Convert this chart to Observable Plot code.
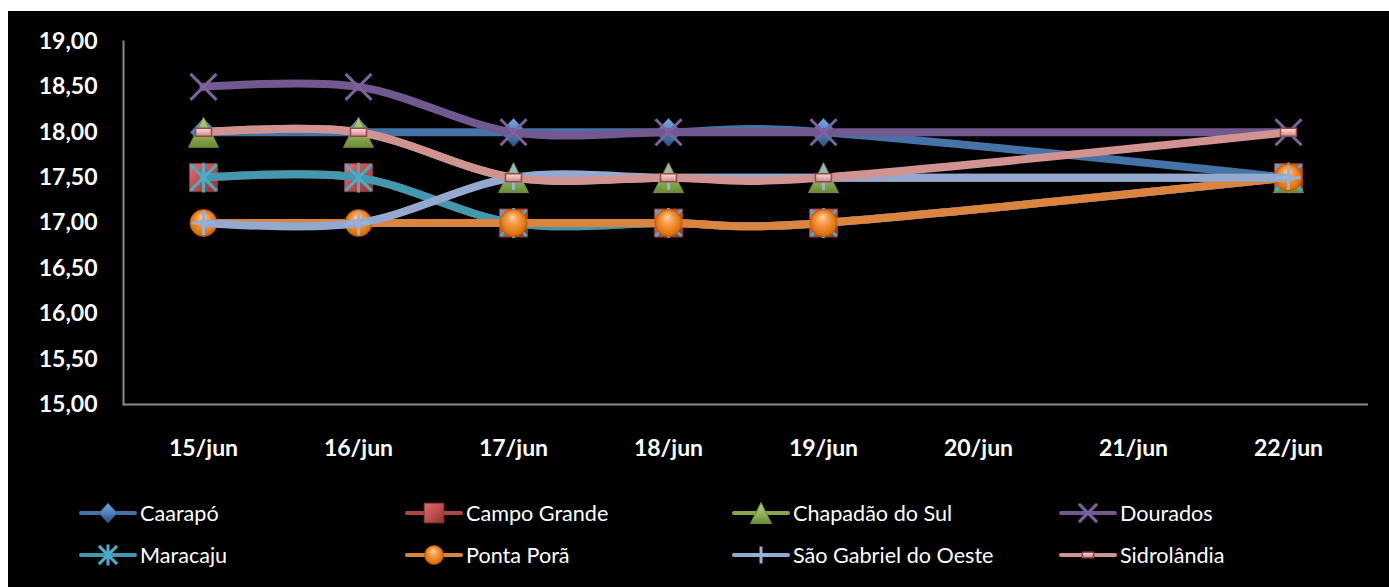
<!DOCTYPE html>
<html>
<head>
<meta charset="utf-8">
<script src="https://cdn.jsdelivr.net/npm/d3@7"></script>
<script src="https://cdn.jsdelivr.net/npm/@observablehq/plot@0.6"></script>
<style>
  html, body { margin: 0; padding: 0; background: #fff; }
  #chart { position: absolute; left: 8px; top: 11px; width: 1381px; height: 576px; background: #000; overflow: hidden; }
  #legend .item { position: absolute; display: flex; align-items: center; height: 32px; color: #fff;
    font-family: Lato, "Open Sans", sans-serif; font-size: 21.6px; white-space: nowrap; }
  #legend .item svg { display: block; margin-right: 5px; overflow: visible; }
</style>
</head>
<body>
<div id="chart"><div id="plot"></div><div id="legend"></div></div>
<script>
// Price quotes per city, one value per day that was quoted
const days = ["15/jun", "16/jun", "17/jun", "18/jun", "19/jun", "20/jun", "21/jun", "22/jun"];
const quotedDays = ["15/jun", "16/jun", "17/jun", "18/jun", "19/jun", "22/jun"];
const cities = ["Caarapó", "Campo Grande", "Chapadão do Sul", "Dourados", "Maracaju", "Ponta Porã", "São Gabriel do Oeste", "Sidrolândia"];

const caarapo     = [18.0, 18.0, 18.0, 18.0, 18.0, 17.5];
const campoGrande = [17.5, 17.5, 17.0, 17.0, 17.0, 17.5];
const chapadao    = [18.0, 18.0, 17.5, 17.5, 17.5, 17.5];
const dourados    = [18.5, 18.5, 18.0, 18.0, 18.0, 18.0];
const maracaju    = [17.5, 17.5, 17.0, 17.0, 17.0, 17.5];
const pontaPora   = [17.0, 17.0, 17.0, 17.0, 17.0, 17.5];
const saoGabriel  = [17.0, 17.0, 17.5, 17.5, 17.5, 17.5];
const sidrolandia = [18.0, 18.0, 17.5, 17.5, 17.5, 18.0];
const seriesValues = [caarapo, campoGrande, chapadao, dourados, maracaju, pontaPora, saoGabriel, sidrolandia];

const yTicks = [15, 15.5, 16, 16.5, 17, 17.5, 18, 18.5, 19];

// Styling
const lineColors = ["#4572A7", "#AA4643", "#89A54E", "#71588F", "#4198AF", "#DB843D", "#93A9CF", "#D19392"];

// Marker shapes; r = 10 gives the full-size marker
const unit = size => Math.sqrt(size / Math.PI) / 10;
const shapes = {
  diamond: { draw(c, s) { const k = unit(s); c.moveTo(0, -14 * k); c.lineTo(13 * k, 0); c.lineTo(0, 14 * k); c.lineTo(-13 * k, 0); c.closePath(); } },
  square: { draw(c, s) { const k = unit(s) * 14; c.rect(-k, -k, 2 * k, 2 * k); } },
  triangle: { draw(c, s) { const k = unit(s) * 15; c.moveTo(0, -k); c.lineTo(k, k); c.lineTo(-k, k); c.closePath(); } },
  times: { draw(c, s) { const k = unit(s) * 13; c.moveTo(-k, -k); c.lineTo(k, k); c.moveTo(k, -k); c.lineTo(-k, k); } },
  star: { draw(c, s) { const k = unit(s) * 13; c.moveTo(-k, -k); c.lineTo(k, k); c.moveTo(k, -k); c.lineTo(-k, k); c.moveTo(0, -k * 1.15); c.lineTo(0, k * 1.15); } },
  circle: { draw(c, s) { const k = unit(s) * 13.5; c.moveTo(k, 0); c.arc(0, 0, k, 0, 2 * Math.PI); } },
  plus: { draw(c, s) { const k = unit(s) * 12; c.moveTo(-k, 0); c.lineTo(k, 0); c.moveTo(0, -k); c.lineTo(0, k); } },
  bar: { draw(c, s) { const k = unit(s); c.rect(-8 * k, -4 * k, 16 * k, 8 * k); } }
};
const markers = [
  { symbol: shapes.diamond, fill: "url(#gBlue)", stroke: "#385D8A", strokeWidth: 1 },
  { symbol: shapes.square, fill: "url(#gRed)", stroke: "#8C3836", strokeWidth: 1 },
  { symbol: shapes.triangle, fill: "url(#gGreen)", stroke: "#71893F", strokeWidth: 1 },
  { symbol: shapes.times, fill: "none", stroke: "#7E62A0", strokeWidth: 3 },
  { symbol: shapes.star, fill: "none", stroke: "#4BACC6", strokeWidth: 3 },
  { symbol: shapes.circle, fill: "url(#gOrange)", stroke: "#B65708", strokeWidth: 0.8 },
  { symbol: shapes.plus, fill: "none", stroke: "#95B3D7", strokeWidth: 3 },
  { symbol: shapes.bar, fill: "url(#gPink)", stroke: "#8C4A49", strokeWidth: 1.5 }
];

const rows = cities.map((city, i) => quotedDays.map((day, j) => ({ city, day, value: seriesValues[i][j] })));

const marks = [
  Plot.ruleY([15], { stroke: "#8A8A8A", strokeWidth: 2 }),
  Plot.frame({ anchor: "left", stroke: "#8A8A8A", strokeWidth: 2 }),
  Plot.axisX({ tickSize: 0, tickPadding: 35, label: null }),
  Plot.axisY({ ticks: yTicks, tickSize: 0, tickPadding: 26, label: null, tickFormat: d => d.toFixed(2).replace(".", ",") })
];
rows.forEach((data, i) => {
  marks.push(Plot.line(data, { x: "day", y: "value", stroke: lineColors[i], strokeWidth: 8, curve: "cardinal" }));
  marks.push(Plot.dot(data, { x: "day", y: "value", r: 10, ...markers[i] }));
});

const chart = Plot.plot({
  width: 1381,
  height: 480,
  marginLeft: 115,
  marginRight: 21,
  marginTop: 30,
  marginBottom: 87,
  style: { background: "#000", color: "#fff", fontFamily: "Lato, 'Open Sans', sans-serif", fontSize: "23px", fontWeight: "bold", overflow: "visible" },
  x: { type: "point", domain: days, padding: 0.5, label: null },
  y: { domain: [15, 19], label: null },
  marks
});

// Shaded fills for the markers
const defs = `
<defs>
  <linearGradient id="gBlue" x1="0" y1="0" x2="0" y2="1"><stop offset="0" stop-color="#7BA7E0"/><stop offset="0.5" stop-color="#4F81BD"/><stop offset="1" stop-color="#2C5282"/></linearGradient>
  <linearGradient id="gRed" x1="0" y1="0" x2="1" y2="1"><stop offset="0" stop-color="#E0706C"/><stop offset="0.5" stop-color="#C0504D"/><stop offset="1" stop-color="#8E3230"/></linearGradient>
  <linearGradient id="gGreen" x1="0" y1="0" x2="0" y2="1"><stop offset="0" stop-color="#B3D07A"/><stop offset="0.6" stop-color="#8FB052"/><stop offset="1" stop-color="#6A8A36"/></linearGradient>
  <radialGradient id="gOrange" cx="0.5" cy="0.5" r="0.55" fx="0.45" fy="0.25"><stop offset="0" stop-color="#FFD8A8"/><stop offset="0.35" stop-color="#F9A050"/><stop offset="0.8" stop-color="#E2750F"/><stop offset="1" stop-color="#B85A06"/></radialGradient>
  <linearGradient id="gPink" x1="0" y1="0" x2="0" y2="1"><stop offset="0" stop-color="#FBE0DF"/><stop offset="0.5" stop-color="#E9B3B2"/><stop offset="1" stop-color="#C98584"/></linearGradient>
</defs>`;
chart.insertAdjacentHTML("afterbegin", defs);
document.getElementById("plot").append(chart);

// Legend: two rows of four entries
const legend = d3.select("#legend");
const colLeft = [73, 399, 726, 1053];
const rowTop = [486, 528];
cities.forEach((city, i) => {
  const item = legend.append("div").attr("class", "item")
    .style("left", colLeft[i % 4] + "px").style("top", rowTop[Math.floor(i / 4)] + "px");
  const svg = item.append("svg").attr("width", 54).attr("height", 32);
  svg.append("line").attr("x1", 0).attr("x2", 54).attr("y1", 16).attr("y2", 16)
    .attr("stroke", lineColors[i]).attr("stroke-width", 4).attr("stroke-linecap", "round");
  const m = markers[i];
  svg.append("path").attr("transform", "translate(27,16)")
    .attr("d", d3.symbol(m.symbol, Math.PI * 7 * 7)())
    .attr("fill", m.fill).attr("stroke", m.stroke).attr("stroke-width", m.strokeWidth);
  item.append("span").text(city);
});
</script>
</body>
</html>
